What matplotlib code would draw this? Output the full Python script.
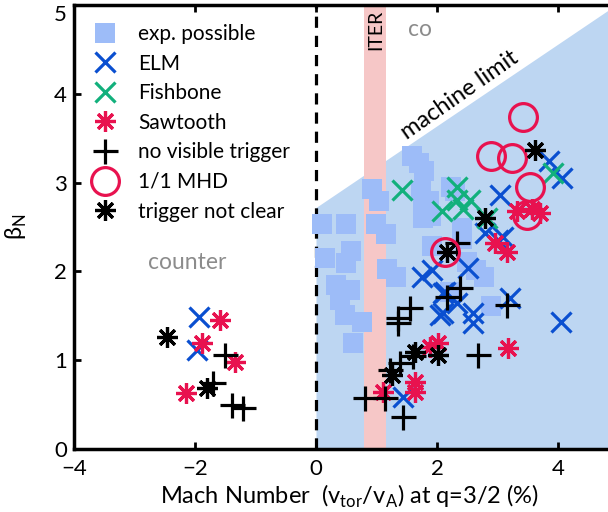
import numpy as np
import matplotlib.pyplot as plt

plt.rcParams['font.family'] = ['Lato', 'DejaVu Sans']

# machine limit line (Mach, beta_N) and ITER band
limit_x = [0, 5]
limit_y = [2.72, 5.02]
iter_band = [0.8, 1.15]

# experimentally possible points
exp_m = [0.1, 0.5, 0.58, 0.93, 1.04, 0.99, 1.16, 1.59, 1.7, 1.79, 1.74, 1.87, 1.9,
         2.23, 1.92, 0.15, 0.5, 0.33, 0.56, 0.4, 0.48, 0.76, 0.61, 1.17, 1.32,
         2.5, 2.64, 2.78, 2.89, 2.21, 2.41, 2.41, 2.3, 1.77, 1.77]
exp_b = [2.53, 2.53, 2.23, 2.93, 2.79, 2.53, 2.42, 3.3, 3.22, 3.13, 2.9, 2.79, 2.62,
         2.95, 2.29, 2.15, 2.1, 1.85, 1.79, 1.68, 1.51, 1.43, 1.19, 2.03, 1.94,
         2.11, 2.02, 1.94, 1.61, 1.77, 2.49, 2.36, 2.9, 2.74, 2.6]

elm_m = [-1.93, -1.97, 1.75, 1.92, 2.51, 2.13, 2.05, 2.33, 2.6, 2.6, 3.21, 4.05,
         2.79, 3.01, 3.09, 1.44, 3.04, 3.85, 4.07, 2.1, 2.1]
elm_b = [1.49, 1.11, 1.94, 2.02, 2.04, 1.77, 1.51, 1.64, 1.53, 1.42, 1.7, 1.43,
         2.43, 2.35, 2.39, 0.59, 2.86, 3.24, 3.05, 1.76, 1.53]

fish_m = [1.42, 2.08, 2.33, 2.33, 2.55, 2.43, 2.83, 3.92]
fish_b = [2.92, 2.68, 2.95, 2.8, 2.8, 2.7, 2.6, 3.11]

saw_m = [-1.59, -1.88, -1.34, -2.15, 3.32, 3.57, 3.7, 2.96, 3.16, 2.02, 3.17,
         1.64, 1.64, 1.11, 1.88]
saw_b = [1.45, 1.19, 0.98, 0.63, 2.68, 2.7, 2.66, 2.32, 2.22, 1.19, 1.14,
         0.75, 0.64, 0.64, 1.15]

none_m = [-1.5, -1.7, -1.39, -1.21, 2.33, 2.17, 2.38, 1.55, 1.36, 3.16, 2.68,
          0.81, 1.14, 1.44, 1.39, 1.6, 1.22, 1.36]
none_b = [1.06, 0.74, 0.5, 0.46, 2.32, 1.71, 1.81, 1.59, 1.48, 1.62, 1.06,
          0.57, 0.57, 0.36, 0.97, 1.05, 0.89, 1.42]

mhd_m = [3.42, 2.9, 3.24, 3.54, 3.49, 2.13]
mhd_b = [3.74, 3.3, 3.28, 2.95, 2.64, 2.22]

unclear_m = [-2.46, -1.8, 3.62, 2.79, 2.17, 1.64, 2.02, 1.26]
unclear_b = [1.26, 0.69, 3.37, 2.6, 2.22, 1.09, 1.06, 0.83]

blue = '#0a4fd0'
green = '#12b07c'
red = '#e8124f'
ast = (8, 2, 0)

fig = plt.figure(figsize=(6.08, 5.12), dpi=100)
ax = fig.add_axes([74 / 608, 63 / 512, 544.5 / 608, 444 / 512])

ax.fill_between(limit_x, 0, limit_y, color='#bdd6f2', lw=0, zorder=0)
ax.axvspan(iter_band[0], iter_band[1], color='#f6c7c7', lw=0, zorder=1)
ax.axvline(0, color='k', ls=(0, (3.5, 2.5)), lw=2.3, zorder=2)

ax.plot(exp_m, exp_b, 's', color='#9dbcf8', ms=14, mew=0, ls='none', zorder=3,
        label='exp. possible')
ax.plot(elm_m, elm_b, 'x', color=blue, ms=14, mew=2.3, ls='none', zorder=4, label='ELM')
ax.plot(fish_m, fish_b, 'x', color=green, ms=14, mew=2.3, ls='none', zorder=4,
        label='Fishbone')
ax.plot(saw_m, saw_b, marker=ast, color=red, ms=15, mew=2.3, ls='none', zorder=4,
        label='Sawtooth')
ax.plot(none_m, none_b, '+', color='k', ms=18, mew=2.3, ls='none', zorder=4,
        label='no visible trigger')
ax.plot(mhd_m, mhd_b, 'o', mfc='none', mec=red, ms=20, mew=2.3, ls='none', zorder=4,
        label='1/1 MHD')
ax.plot(unclear_m, unclear_b, marker=ast, color='k', ms=15, mew=2.3, ls='none', zorder=5,
        label='trigger not clear')

ax.text(0.98, 4.95, 'ITER', rotation=90, ha='center', va='top', fontsize=14)
ax.text(1.72, 4.72, 'co', color='#8c8c8c', ha='center', va='center', fontsize=16.5)
ax.text(-2.13, 2.1, 'counter', color='#8c8c8c', ha='center', va='center', fontsize=16.5)
ax.text(2.38, 3.99, 'machine limit', rotation=35, ha='center', va='center', fontsize=17,
        rotation_mode='anchor')

ax.set_xlim(-4, 5)
ax.set_ylim(0, 5)
ax.set_xticks([-4, -2, 0, 2, 4])
ax.set_xticklabels(['\u22124', '\u22122', '0', '2', '4'])
ax.set_yticks([0, 1, 2, 3, 4, 5])
ax.tick_params(direction='in', length=5, width=2, top=True, labelsize=16)
ax.tick_params(axis='x', pad=7)
ax.tick_params(axis='y', pad=5)
for s in ax.spines.values():
    s.set_linewidth(2.5)
    s.set_zorder(6)
# keep the top label inside the figure
ax.get_yticklabels()[-1].set_verticalalignment('top')

ax.set_xlabel('Mach Number  (v$_{\\mathregular{tor}}$/v$_{\\mathregular{A}}$) at q=3/2 (%)',
              fontsize=17)
ax.xaxis.set_label_coords(0.507, -0.075)
ax.set_ylabel('\u03b2$_{\\mathregular{N}}$', fontsize=17)
ax.yaxis.set_label_coords(-0.082, 0.5)

ax.legend(loc='upper left', bbox_to_anchor=(-0.003, 0.997), frameon=False, fontsize=15,
          handlelength=1.4, handletextpad=0.9, labelspacing=0.46, borderpad=0.35,
          numpoints=1)

plt.savefig('out.png', dpi=100)
